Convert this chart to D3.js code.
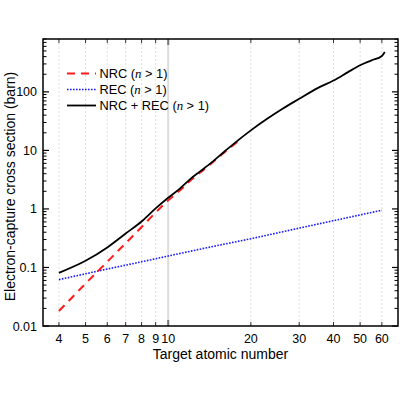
<!DOCTYPE html>
<html>
<head>
<meta charset="utf-8">
<script src="https://cdn.jsdelivr.net/npm/d3@7"></script>
<style>
  body { margin: 0; background: white; }
  svg { font-family: "Liberation Sans", Arial, sans-serif; }
</style>
</head>
<body>
<svg id="chart" width="400" height="400"></svg>
<script>
// atomic numbers and cross sections (barn)
var totZ = [4, 5, 6, 7, 8, 9, 10, 11, 12, 13, 14, 16, 18, 20, 23, 26, 30, 35, 40, 45, 50, 55, 60, 61.5];
var totVal = [0.081, 0.13, 0.22, 0.38, 0.61, 1.02, 1.55, 2.2, 3.2, 4.3, 5.6, 9.5, 15, 22, 35, 51, 76, 116, 156, 215, 285, 345, 410, 480];

var nrcZ = [4, 5, 6, 7, 8, 9, 10, 11, 12, 13, 14, 16, 18];
var nrcVal = [0.018, 0.053, 0.125, 0.26, 0.49, 0.87, 1.4, 2.05, 3.0, 4.1, 5.4, 9.2, 14.5];

var recZ = [4, 5, 6, 8, 10, 15, 20, 30, 40, 50, 60];
var recVal = [0.062, 0.078, 0.094, 0.125, 0.157, 0.235, 0.31, 0.47, 0.63, 0.79, 0.95];

var xTicks = [4, 5, 6, 7, 8, 9, 10, 20, 30, 40, 50, 60];
var yTicks = [0.01, 0.1, 1, 10, 100];
var yTickLabels = ['0.01', '0.1', '1', '10', '100'];

var margin = { left: 43, top: 39, right: 2, bottom: 74 };
var width = 400 - margin.left - margin.right;
var height = 400 - margin.top - margin.bottom;

var svg = d3.select('#chart');
var g = svg.append('g').attr('transform', 'translate(' + margin.left + ',' + margin.top + ')');

var x = d3.scaleLog().domain([3.5, 68.7]).range([0, width]);
var y = d3.scaleLog().domain([0.01, 800]).range([height, 0]);

// vertical grid
g.selectAll('.grid')
  .data(xTicks)
  .enter()
  .append('line')
  .attr('x1', function(d) { return x(d); })
  .attr('x2', function(d) { return x(d); })
  .attr('y1', 0)
  .attr('y2', height)
  .attr('stroke', function(d) { return d === 10 ? '#dcdcdc' : '#d8d8d8'; })
  .attr('stroke-width', function(d) { return d === 10 ? 2 : 0.8; })
  .attr('stroke-dasharray', function(d) { return d === 10 ? null : '2,2'; });

// minor y ticks
var minorY = [];
[0.01, 0.1, 1, 10, 100].forEach(function(dec) {
  for (var k = 2; k <= 9; k++) {
    if (dec * k <= 800) minorY.push(dec * k);
  }
});

function yAxisTicks(xpos, dir) {
  g.selectAll(null)
    .data(yTicks)
    .enter()
    .append('line')
    .attr('x1', xpos).attr('x2', xpos + dir * 6)
    .attr('y1', function(d) { return y(d); })
    .attr('y2', function(d) { return y(d); })
    .attr('stroke', '#000').attr('stroke-width', 1.2);
  g.selectAll(null)
    .data(minorY)
    .enter()
    .append('line')
    .attr('x1', xpos).attr('x2', xpos + dir * 3.5)
    .attr('y1', function(d) { return y(d); })
    .attr('y2', function(d) { return y(d); })
    .attr('stroke', '#000').attr('stroke-width', 1);
}
yAxisTicks(0, 1);
yAxisTicks(width, -1);

function xAxisTicks(ypos, dir) {
  g.selectAll(null)
    .data(xTicks)
    .enter()
    .append('line')
    .attr('x1', function(d) { return x(d); })
    .attr('x2', function(d) { return x(d); })
    .attr('y1', ypos)
    .attr('y2', function(d) { return ypos + dir * (d === 10 ? 6 : 4); })
    .attr('stroke', function(d) { return d === 10 ? '#777' : '#333'; })
    .attr('stroke-width', function(d) { return d === 10 ? 2 : 1; });
}
xAxisTicks(height, -1);
xAxisTicks(0, 1);

// tick labels
g.selectAll('.xlab')
  .data(xTicks)
  .enter()
  .append('text')
  .attr('x', function(d) { return x(d); })
  .attr('y', height + 17)
  .attr('text-anchor', 'middle')
  .attr('font-size', 12.5)
  .text(function(d) { return d; });

g.selectAll('.ylab')
  .data(yTicks)
  .enter()
  .append('text')
  .attr('x', -6)
  .attr('y', function(d) { return y(d) + 4.5; })
  .attr('text-anchor', 'end')
  .attr('font-size', 12.5)
  .text(function(d, i) { return yTickLabels[i]; });

// curves
var line = d3.line()
  .x(function(d) { return x(d[0]); })
  .y(function(d) { return y(d[1]); })
  .curve(d3.curveMonotoneX);

g.append('path')
  .datum(d3.zip(recZ, recVal))
  .attr('d', line)
  .attr('fill', 'none')
  .attr('stroke', '#1a1aff')
  .attr('stroke-width', 1.6)
  .attr('stroke-dasharray', '1.6,1.4');

g.append('path')
  .datum(d3.zip(nrcZ, nrcVal))
  .attr('d', line)
  .attr('fill', 'none')
  .attr('stroke', '#ff1a1a')
  .attr('stroke-width', 2)
  .attr('stroke-dasharray', '8,6');

g.append('path')
  .datum(d3.zip(totZ, totVal))
  .attr('d', line)
  .attr('fill', 'none')
  .attr('stroke', '#000')
  .attr('stroke-width', 1.8);

// frame
g.append('rect')
  .attr('width', width).attr('height', height)
  .attr('fill', 'none')
  .attr('stroke', '#000')
  .attr('stroke-width', 1.5);

// legend
var legendItems = [
  { name: 'NRC', color: '#ff1a1a', dash: '8,6', w: 2 },
  { name: 'REC', color: '#1a1aff', dash: '1.6,1.4', w: 1.6 },
  { name: 'NRC + REC', color: '#000', dash: null, w: 1.8 }
];
var legend = svg.append('g');
legendItems.forEach(function(item, i) {
  var ly = 73.5 + i * 16;
  legend.append('line')
    .attr('x1', 67).attr('x2', 96)
    .attr('y1', ly).attr('y2', ly)
    .attr('stroke', item.color)
    .attr('stroke-width', item.w)
    .attr('stroke-dasharray', item.dash);
  var t = legend.append('text')
    .attr('x', 99.5).attr('y', ly + 4.5)
    .attr('font-size', 12.8);
  t.append('tspan').text(item.name + ' (');
  t.append('tspan')
    .attr('font-family', '"Liberation Serif", "DejaVu Serif", serif')
    .attr('font-style', 'italic')
    .text('n');
  t.append('tspan').text(' > 1)');
});

// axis titles
svg.append('text')
  .attr('x', margin.left + width / 2)
  .attr('y', 359)
  .attr('text-anchor', 'middle')
  .attr('font-size', 14)
  .text('Target atomic number');

svg.append('text')
  .attr('transform', 'translate(15,' + (margin.top + height / 2 + 4) + ') rotate(-90)')
  .attr('text-anchor', 'middle')
  .attr('font-size', 14)
  .text('Electron-capture cross section (barn)');
</script>
</body>
</html>
